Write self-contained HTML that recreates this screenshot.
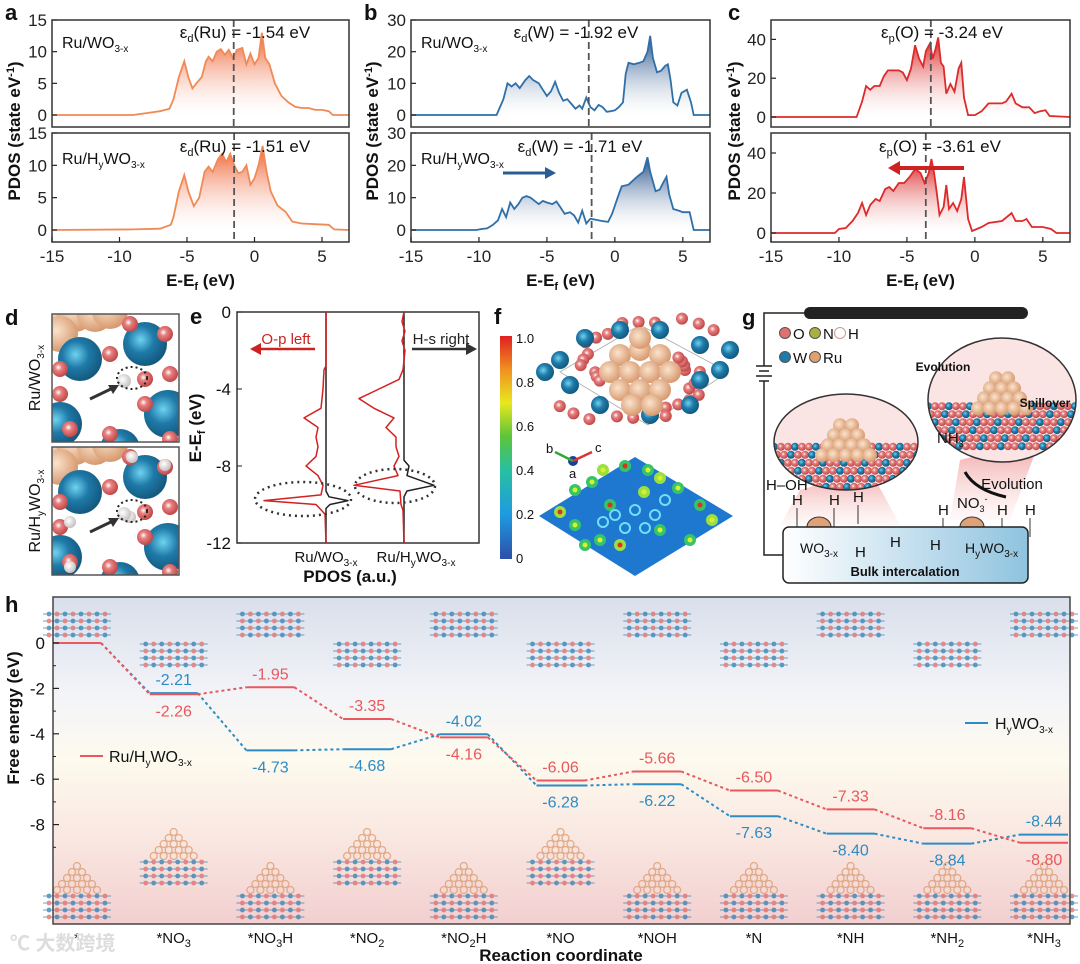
<!DOCTYPE html>
<html><head><meta charset="utf-8">
<style>
html,body{margin:0;padding:0;background:#fff;}
svg{display:block;font-family:"Liberation Sans","Noto Sans CJK SC",sans-serif;}
</style></head>
<body>
<svg id="fig" width="1080" height="964" viewBox="0 0 1080 964" xmlns="http://www.w3.org/2000/svg">
<defs>
<linearGradient id="gOr" x1="0" y1="0" x2="0" y2="1"><stop offset="0" stop-color="#ee5a2a"/><stop offset="1" stop-color="#fff" stop-opacity="0.2"/></linearGradient>
<linearGradient id="gBl" x1="0" y1="0" x2="0" y2="1"><stop offset="0" stop-color="#1d4a86"/><stop offset="1" stop-color="#fff" stop-opacity="0.2"/></linearGradient>
<linearGradient id="gRd" x1="0" y1="0" x2="0" y2="1"><stop offset="0" stop-color="#d91e1e"/><stop offset="1" stop-color="#fff" stop-opacity="0.2"/></linearGradient>
<linearGradient id="gBg" x1="0" y1="0" x2="0" y2="1"><stop offset="0" stop-color="#d9dfeb"/><stop offset="0.3" stop-color="#f3f4f8"/><stop offset="0.5" stop-color="#fdfaee"/><stop offset="0.75" stop-color="#f9e6e0"/><stop offset="1" stop-color="#f2cfd0"/></linearGradient>
<linearGradient id="gCb" x1="0" y1="1" x2="0" y2="0"><stop offset="0" stop-color="#2c4fa8"/><stop offset="0.2" stop-color="#1e9be0"/><stop offset="0.4" stop-color="#27c0a0"/><stop offset="0.55" stop-color="#5cc43a"/><stop offset="0.7" stop-color="#e8e81e"/><stop offset="0.85" stop-color="#f09020"/><stop offset="1" stop-color="#e02020"/></linearGradient>
<linearGradient id="gBox" x1="0" y1="0" x2="1" y2="0"><stop offset="0" stop-color="#fff"/><stop offset="1" stop-color="#8fc3df"/></linearGradient>
<radialGradient id="gW" cx="0.4" cy="0.4" r="0.6"><stop offset="0" stop-color="#6fd3f0"/><stop offset="0.5" stop-color="#1f7aa8"/><stop offset="1" stop-color="#145a80"/></radialGradient>
<radialGradient id="gO" cx="0.4" cy="0.4" r="0.6"><stop offset="0" stop-color="#fff"/><stop offset="0.35" stop-color="#e78080"/><stop offset="1" stop-color="#c04848"/></radialGradient>
<radialGradient id="gRu" cx="0.4" cy="0.4" r="0.6"><stop offset="0" stop-color="#fbe3cc"/><stop offset="1" stop-color="#d79a70"/></radialGradient>
<radialGradient id="gH" cx="0.4" cy="0.4" r="0.6"><stop offset="0" stop-color="#fff"/><stop offset="1" stop-color="#c8c0c0"/></radialGradient>
<linearGradient id="gCone" x1="0" y1="0" x2="0" y2="1"><stop offset="0" stop-color="#f0a0a0"/><stop offset="1" stop-color="#fde8e8" stop-opacity="0.3"/></linearGradient>
</defs>
<g id="root"></g>
</svg>
<script>
// ---------- Panel a/b/c data (energy, PDOS) ----------
const aTop=[[-15,0],[-9,0],[-8,0.3],[-7,0.6],[-6.3,1],[-6,2.5],[-5.6,6],[-5.2,8.5],[-4.9,6],[-4.6,4.2],[-4.3,5],[-3.9,6],[-3.6,8.5],[-3.4,9.2],[-3.1,8.5],[-2.8,10],[-2.5,10.4],[-2.2,9.5],[-1.9,10.3],[-1.6,9],[-1.3,10.3],[-0.9,10.6],[-0.6,8],[-0.3,9.7],[0,8],[0.3,9],[0.55,13],[0.8,9],[1.1,8],[1.5,5],[2,3],[2.5,2],[3,1.3],[3.5,1.1],[4,1.1],[4.5,0.8],[5,0.8],[5.5,0.6],[5.8,0],[7,0]];
const aBot=[[-15,0],[-9,0.1],[-7,0.2],[-6.2,0.8],[-6,2],[-5.6,6],[-5.2,8.5],[-4.9,6],[-4.5,3.7],[-4.1,5],[-3.7,9],[-3.4,9.8],[-3.1,9],[-2.7,11],[-2.4,11.8],[-2.1,10.5],[-1.8,11.8],[-1.5,10],[-1.2,8.8],[-0.9,9],[-0.6,10],[-0.3,7],[0,8],[0.3,10],[0.6,13],[0.9,9],[1.2,6],[1.7,3.8],[2.3,2.8],[2.8,1.3],[3.5,1],[4.5,0.9],[5.5,0.8],[5.9,0.1],[7,0]];
const bTop=[[-15,0],[-8.7,0],[-8.2,5],[-7.9,10],[-7.6,9],[-7.3,10],[-7,8.5],[-6.6,11],[-6.3,12.3],[-6,11],[-5.6,10],[-5.3,8],[-5,6],[-4.7,7.5],[-4.4,10.5],[-4.1,7],[-3.8,4.5],[-3.5,5],[-3.2,3.5],[-2.9,2],[-2.6,3],[-2.4,2],[-2.1,5.5],[-1.8,2.5],[-1.5,1.5],[-1.2,3.2],[-0.9,2.5],[-0.6,1],[-0.3,1.2],[0,1.5],[0.3,2.5],[0.6,4],[0.8,13],[1,16.5],[1.4,16],[1.8,16.5],[2.1,17],[2.4,20],[2.6,25],[2.8,18],[3.1,13.5],[3.4,14],[3.7,15.5],[3.9,16],[4.1,11],[4.3,4],[4.6,3],[4.9,7],[5.3,8],[5.6,4],[5.8,0],[7,0]];
const bBot=[[-15,0],[-10.2,0],[-9.8,0.3],[-9.4,0.5],[-9,1.5],[-8.6,3],[-8.3,6.5],[-8,4],[-7.7,8.5],[-7.4,6.5],[-7.1,8],[-6.8,10],[-6.5,10.5],[-6.2,10],[-5.9,9],[-5.6,8],[-5.3,9],[-5,8.5],[-4.6,8],[-4.3,8.8],[-4,7],[-3.7,5],[-3.3,5.5],[-3,4.5],[-2.7,2.3],[-2.4,6],[-2.1,2],[-1.8,3.5],[-1.4,3.2],[-1,2.8],[-0.5,2.5],[-0.2,5],[0.2,10],[0.5,13.5],[1,14],[1.5,16],[1.8,17],[2.1,18],[2.4,22.5],[2.6,18],[3,12],[3.3,12.5],[3.6,15],[3.8,16.5],[4,11],[4.3,6.5],[4.7,6],[5,5.5],[5.5,5.5],[5.8,0],[7,0]];
const cTop=[[-15,0],[-8.7,0],[-8.3,8],[-8,16],[-7.7,14],[-7.4,16],[-7,16],[-6.7,21],[-6.4,24],[-6,24],[-5.6,24],[-5.3,23],[-5,19],[-4.7,25],[-4.4,37],[-4.1,30],[-3.8,26],[-3.6,34],[-3.3,38],[-3.1,30],[-2.9,35],[-2.7,41],[-2.5,28],[-2.3,26],[-2.1,12],[-1.8,17],[-1.5,13],[-1.2,25],[-1,28],[-0.8,10],[-0.5,1],[0,1],[0.5,3],[1,7],[2,7],[2.3,8],[2.7,12],[3,7],[3.5,5],[4,5],[4.4,2],[4.8,3],[5.2,3.5],[5.5,0.5],[7,0]];
const cBot=[[-15,0],[-10.3,0],[-10,2],[-9.5,2.5],[-9,6],[-8.6,10],[-8.3,15],[-8,9],[-7.7,14],[-7.3,17],[-7,16],[-6.6,22],[-6.3,23],[-6,21],[-5.6,25],[-5.2,25],[-4.8,28],[-4.4,32],[-4,30],[-3.7,25],[-3.4,30],[-3.2,37],[-3,30],[-2.8,20],[-2.6,9],[-2.3,13],[-2.1,24],[-1.9,12],[-1.6,15],[-1.3,11],[-1,17],[-0.8,28],[-0.5,7],[-0.2,1],[0.5,3],[1,5],[2,6],[2.7,10],[3,6],[3.5,6],[3.8,7],[4.2,3],[5,3],[5.6,2],[6,0],[7,0]];
const centers=[-1.54,-1.51,-1.92,-1.71,-3.24,-3.61];
const xTicks=[-15,-10,-5,0,5];
// ---------- Panel e data (energy, deflection a.u.) ----------
const eOp1=[[0,0],[-2.8,0],[-3,-2],[-4,-3],[-5,-5],[-5.5,-22],[-6,-8],[-6.5,-10],[-7,-8],[-7.5,-10],[-8,-20],[-8.5,-8],[-9,-3],[-9.5,-5],[-9.8,-62],[-10,-10],[-10.5,-1],[-12,0]];
const eHs1=[[0,0],[-9.3,0],[-9.6,3],[-9.8,22],[-10,4],[-10.2,0],[-12,0]];
const eOp2=[[0,0],[-0.5,-2],[-1,1],[-1.5,-2],[-2,1],[-3,-1],[-3.5,-5],[-4,-25],[-4.5,-45],[-5,-30],[-5.5,-10],[-6,-18],[-6.5,-8],[-7,-8],[-7.5,-5],[-8,-10],[-8.5,-6],[-9,-50],[-9.3,-4],[-10,-3],[-10.3,-1],[-12,0]];
const eHs2=[[0,0],[-7.7,0],[-8,5],[-8.5,3],[-9,30],[-9.3,3],[-9.6,0],[-12,0]];
const eTicks=[0,-4,-8,-12];
// ---------- Panel h data ----------
const steps=["*","*NO3","*NO3H","*NO2","*NO2H","*NO","*NOH","*N","*NH","*NH2","*NH3"];
const redG=[0,-2.26,-1.95,-3.35,-4.16,-6.06,-5.66,-6.50,-7.33,-8.16,-8.80];
const blueG=[0,-2.21,-4.73,-4.68,-4.02,-6.28,-6.22,-7.63,-8.40,-8.84,-8.44];
const hTicks=[0,-2,-4,-6,-8];
const redPos=[0,1,-1,-1,1,-1,-1,-1,-1,-1,1];   // +1 below, -1 above
const bluePos=[0,-1,1,1,-1,1,1,1,1,1,-1];

const NS="http://www.w3.org/2000/svg";
const root=document.getElementById('root');
function mk(tag,attrs,parent){const e=document.createElementNS(NS,tag);for(const k in attrs)e.setAttribute(k,attrs[k]);(parent||root).appendChild(e);return e;}
function txt(x,y,s,opt,parent){const o=Object.assign({x:x,y:y,'font-size':16,fill:'#111'},opt||{});const t=mk('text',o,parent);t.innerHTML=s;return t;}

// ---------- PDOS panels ----------
function pdosPanel(p){
  const g=mk('g',{});
  
  
  const sx=e=>p.x0+(e+15)/22*(p.x1-p.x0);
  const subs=[{d:p.top,y0:p.zTop,y1:20,label:p.l1,ann:p.a1,c:p.c1,ay:36},{d:p.bot,y0:p.zBot,y1:133,label:p.l2,ann:p.a2,c:p.c2,ay:152}];
  subs.forEach((s,k)=>{
    const sy=v=>s.y0-v*(s.y0-s.y1)/p.vmax;
    let dp='';s.d.forEach((pt,i)=>{dp+=(i?'L':'M')+sx(pt[0]).toFixed(1)+','+sy(pt[1]).toFixed(1);});
    const area=mk('path',{d:dp+'L'+sx(7)+','+sy(0)+'L'+sx(-15)+','+sy(0)+'Z',fill:'url(#'+p.grad+')',stroke:'none'},g);
    
    
    const ln=mk('path',{d:dp,fill:'none',stroke:p.color,'stroke-width':1.8},g);
    
    
    const dx=sx(s.c);
    const dl=mk('line',{x1:dx,x2:dx,y1:k?133:20,y2:k?242:127,stroke:'#555','stroke-width':1.8,'stroke-dasharray':'7,4'},g);
    
    
    p.yt.forEach(v=>{const yy=sy(v);mk('line',{x1:p.x0,x2:p.x0+5,y1:yy,y2:yy,stroke:'#222','stroke-width':1.2},g);
      const t=txt(p.x0-5,yy+6,String(v),{'text-anchor':'end','font-size':17,fill:'#222'},g);
      
      });
    if(s.label){const t=txt(p.x0+10,s.ay+12,s.label,{'font-size':16},g);
      
      }
    const an=txt(s.ann[0],s.ay+(k?0:2),s.ann[1],{'font-size':17,'text-anchor':'middle'},g);
    
    
  });
  const fr=mk('rect',{x:p.x0,y:20,width:p.x1-p.x0,height:107,fill:'none',stroke:'#333','stroke-width':1.5},g);
  
  const fr2=mk('rect',{x:p.x0,y:133,width:p.x1-p.x0,height:109,fill:'none',stroke:'#333','stroke-width':1.5},g);
  
  xTicks.forEach(v=>{const xx=sx(v);mk('line',{x1:xx,x2:xx,y1:242,y2:237,stroke:'#222','stroke-width':1.2},g);
    const t=txt(xx,262,String(v),{'text-anchor':'middle','font-size':17,fill:'#222'},g);
    });
  const xt=txt((p.x0+p.x1)/2,286,'E-E<tspan font-size="11" dy="4">f</tspan><tspan dy="-4"> (eV)</tspan>',{'text-anchor':'middle','font-size':17,'font-weight':'bold'},g);
  
  const yt=txt(0,0,'PDOS (state eV<tspan font-size="11" dy="-6">-1</tspan><tspan dy="6">)</tspan>',{'text-anchor':'middle','font-size':17,'font-weight':'bold',transform:'translate('+p.ytx+',131) rotate(-90)'},g);
  
  const pl=txt(p.lx,20,p.letter,{'font-size':22,'font-weight':'bold'},g);
  
  return {g,sx};
}
const WO='WO<tspan font-size="10" dy="4">3-x</tspan>';
const HWO='H<tspan font-size="10" dy="4">y</tspan><tspan dy="-4">WO</tspan><tspan font-size="10" dy="4">3-x</tspan>';
pdosPanel({name:'panel-a',letter:'a',lx:5,x0:52,x1:349,zTop:115,zBot:230,vmax:15,yt:[0,5,10,15],top:aTop,bot:aBot,c1:centers[0],c2:centers[1],
  grad:'gOr',color:'#f08a55',l1:'Ru/'+WO,l2:'Ru/'+HWO,ytx:20,
  a1:[245,'ε<tspan font-size="11" dy="4">d</tspan><tspan dy="-4">(Ru) = -1.54 eV</tspan>'],a2:[245,'ε<tspan font-size="11" dy="4">d</tspan><tspan dy="-4">(Ru) = -1.51 eV</tspan>']});
const pb=pdosPanel({name:'panel-b',letter:'b',lx:364,x0:411,x1:710,zTop:115,zBot:230,vmax:30,yt:[0,10,20,30],top:bTop,bot:bBot,c1:centers[2],c2:centers[3],
  grad:'gBl',color:'#2f6fa8',l1:'Ru/'+WO,l2:'Ru/'+HWO,ytx:378,
  a1:[576,'ε<tspan font-size="11" dy="4">d</tspan><tspan dy="-4">(W) = -1.92 eV</tspan>'],a2:[580,'ε<tspan font-size="11" dy="4">d</tspan><tspan dy="-4">(W) = -1.71 eV</tspan>']});
const pc=pdosPanel({name:'panel-c',letter:'c',lx:728,x0:771,x1:1070,zTop:117,zBot:233,vmax:50,yt:[0,20,40],top:cTop,bot:cBot,c1:centers[4],c2:centers[5],
  grad:'gRd',color:'#dd2a2a',l1:null,l2:null,ytx:740,
  a1:[942,'ε<tspan font-size="11" dy="4">p</tspan><tspan dy="-4">(O) = -3.24 eV</tspan>'],a2:[940,'ε<tspan font-size="11" dy="4">p</tspan><tspan dy="-4">(O) = -3.61 eV</tspan>']});
(function(){
  const a1=mk('path',{d:'M503,173 L548,173',stroke:'#2a5d96','stroke-width':3},pb.g);
  
  mk('path',{d:'M556,173 L545,167 L545,179 Z',fill:'#2a5d96'},pb.g);
  const a2=mk('path',{d:'M964,168 L898,168',stroke:'#cc2222','stroke-width':4},pc.g);
  
  mk('path',{d:'M888,168 L900,161 L900,175 Z',fill:'#cc2222'},pc.g);
})();

// ---------- Panel d ----------
(function(){
  const g=mk('g',{});
  
  
  txt(5,325,'d',{'font-size':22,'font-weight':'bold'},g);
  [[314,'Ru/'+WO],[447,'Ru/'+HWO]].forEach((b,k)=>{
    const y=b[0];
    const cp=mk('clipPath',{id:'cd'+k},g);mk('rect',{x:52,y:y,width:127,height:128},cp);
    const gg=mk('g',{'clip-path':'url(#cd'+k+')'},g);
    mk('rect',{x:52,y:y,width:127,height:128,fill:'#fff'},gg);
    [[55,y],[75,y],[95,y],[60,y+20],[110,y-3]].forEach(c=>mk('circle',{cx:c[0],cy:c[1],r:18,fill:'url(#gRu)'},gg));
    [[80,y+45,22],[145,y+30,22],[168,y+100,24],[60,y+110,22],[120,y+135,20]].forEach(c=>mk('circle',{cx:c[0],cy:c[1],r:c[2],fill:'url(#gW)'},gg));
    [[130,y+10],[165,y+20],[110,y+40],[60,y+55],[145,y+65],[170,y+60],[60,y+80],[145,y+90],[70,y+115],[110,y+120],[170,y+125]].forEach(c=>mk('circle',{cx:c[0],cy:c[1],r:8,fill:'url(#gO)'},gg));
    if(k){[[132,y+10],[165,y+18],[70,y+75],[130,y+70],[70,y+120],[45,y+125]].forEach(c=>mk('circle',{cx:c[0],cy:c[1],r:6,fill:'url(#gH)'},gg));}
    mk('circle',{cx:124,cy:y+67,r:7,fill:'url(#gH)'},gg);
    mk('ellipse',{cx:132,cy:y+64,rx:15,ry:11,fill:'none',stroke:'#222','stroke-width':2,'stroke-dasharray':'2,3'},gg);
    mk('path',{d:'M90,'+(y+85)+' L115,'+(y+73),stroke:'#333','stroke-width':3},gg);
    mk('path',{d:'M119,'+(y+71)+' L108,'+(y+71)+' L113,'+(y+80)+' Z',fill:'#333'},gg);
    mk('rect',{x:52,y:y,width:127,height:128,fill:'none',stroke:'#555','stroke-width':1.5},g);
    const l=txt(0,0,b[1],{'font-size':16,'text-anchor':'middle',transform:'translate(40,'+(y+64)+') rotate(-90)'},g);
    
  });
})();

// ---------- Panel e ----------
(function(){
  const g=mk('g',{});
  
  
  const X0=237,X1=479,Y0=312,Y1=543;
  const sy=e=>Y0-e*(Y1-Y0)/12;
  txt(190,324,'e',{'font-size':22,'font-weight':'bold'},g);
  mk('rect',{x:X0,y:Y0,width:X1-X0,height:Y1-Y0,fill:'none',stroke:'#333','stroke-width':1.5},g);
  function curve(d,bx,col,nm){let s='';d.forEach((p,i)=>{s+=(i?'L':'M')+(bx+p[1]).toFixed(1)+','+sy(p[0]).toFixed(1);});
    const c=mk('path',{d:s,fill:'none',stroke:col,'stroke-width':1.5,'stroke-linejoin':'round'},g);
    }
  curve(eHs1,326,'#222','hs-curve-1');curve(eOp1,326,'#d42020','op-curve-1');
  curve(eHs2,404,'#222','hs-curve-2');curve(eOp2,404,'#d42020','op-curve-2');
  eTicks.forEach(v=>{const yy=sy(v);mk('line',{x1:X0,x2:X0+5,y1:yy,y2:yy,stroke:'#222'},g);
    const t=txt(X0-6,yy+6,String(v),{'text-anchor':'end','font-size':17},g);
    });
  mk('ellipse',{cx:303,cy:499,rx:48,ry:17,fill:'none',stroke:'#333','stroke-width':2.5,'stroke-dasharray':'2,4'},g);
  mk('ellipse',{cx:395,cy:486,rx:40,ry:17,fill:'none',stroke:'#333','stroke-width':2.5,'stroke-dasharray':'2,4'},g);
  txt(286,344,'O-p left',{'font-size':15,fill:'#cc2222','text-anchor':'middle'},g);
  mk('path',{d:'M315,349 L258,349',stroke:'#cc2222','stroke-width':2.5},g);mk('path',{d:'M250,349 L261,343 L261,355Z',fill:'#cc2222'},g);
  txt(441,344,'H-s right',{'font-size':15,fill:'#222','text-anchor':'middle'},g);
  mk('path',{d:'M412,349 L468,349',stroke:'#333','stroke-width':2.5},g);mk('path',{d:'M477,349 L466,343 L466,355Z',fill:'#333'},g);
  txt(0,0,'E-E<tspan font-size="11" dy="4">f</tspan><tspan dy="-4"> (eV)</tspan>',{'font-size':17,'font-weight':'bold','text-anchor':'middle',transform:'translate(201,428) rotate(-90)'},g);
  txt(326,562,'Ru/'+WO,{'font-size':15,'text-anchor':'middle'},g);
  txt(416,562,'Ru/'+HWO,{'font-size':15,'text-anchor':'middle'},g);
  const xt=txt(350,582,'PDOS (a.u.)',{'font-size':17,'font-weight':'bold','text-anchor':'middle'},g);
  
})();

// ---------- Panel f ----------
(function(){
  const g=mk('g',{});
  
  
  txt(494,324,'f',{'font-size':22,'font-weight':'bold'},g);
  const cb=mk('rect',{x:500,y:336,width:12,height:223,fill:'url(#gCb)'},g);
  
  ['1.0','0.8','0.6','0.4','0.2','0'].forEach((s,i)=>{const yy=338+i*44;txt(516,yy+5,s,{'font-size':13},g);});
  mk('path',{d:'M560,372 L640,325 L728,372 L648,425 Z',fill:'none',stroke:'#aaa','stroke-width':0.8},g);
  const atoms=[[560,360],[585,338],[620,330],[660,330],[700,345],[720,370],[690,405],[650,415],[600,405],[570,385],[700,380],[545,372],[730,350]];
  for(let i=0;i<34;i++){const ang=i*0.61, rr=30+(i%5)*10;mk('circle',{cx:640+Math.cos(ang)*rr*1.5,cy:370+Math.sin(ang)*rr*0.8,r:6,fill:'url(#gO)'},g);}
  atoms.forEach(a=>mk('circle',{cx:a[0],cy:a[1],r:9,fill:'url(#gW)'},g));
  [[620,355],[640,350],[660,355],[610,372],[630,372],[650,372],[670,372],[620,390],[640,390],[660,390],[632,405],[652,405],[640,338]].forEach(a=>mk('circle',{cx:a[0],cy:a[1],r:11,fill:'url(#gRu)'},g));
  mk('circle',{cx:573,cy:461,r:5,fill:'#1d3f9c'},g);
  mk('path',{d:'M573,461 L555,452',stroke:'#3a3',"stroke-width":2.5},g);mk('path',{d:'M573,461 L592,452',stroke:'#d33',"stroke-width":2.5},g);
  txt(546,453,'b',{'font-size':13},g);txt(595,452,'c',{'font-size':13},g);txt(569,478,'a',{'font-size':13},g);
  const hm=mk('path',{d:'M539,516 L635,457 L733,516 L635,576 Z',fill:'#1e78d0'},g);
  
  [[560,512],[575,490],[592,482],[603,470],[625,466],[648,470],[660,478],[678,488],[700,505],[712,520],[660,530],[690,540],[620,545],[600,540],[575,525],[644,492],[610,505],[585,545]].forEach((p,i)=>{
    mk('circle',{cx:p[0],cy:p[1],r:6,fill:i%3==0?'#9be040':'#35c46a'},g);
    mk('circle',{cx:p[0],cy:p[1],r:2.5,fill:i%4==0?'#e03020':'#d8f030'},g);});
  [[615,515],[635,510],[655,515],[625,528],[645,528],[603,522],[665,500]].forEach(p=>mk('circle',{cx:p[0],cy:p[1],r:5,fill:'none',stroke:'#6ee0f8','stroke-width':2},g));
})();

// ---------- Panel g ----------
(function(){
  const g=mk('g',{});
  
  
  txt(742,325,'g',{'font-size':22,'font-weight':'bold'},g);
  mk('path',{d:'M810,313 L1022,313',stroke:'#222','stroke-width':12,'stroke-linecap':'round'},g);
  mk('path',{d:'M810,313 L764,313 L764,366 M764,381 L764,555 L783,555',fill:'none',stroke:'#222','stroke-width':1.5},g);
  mk('path',{d:'M756,366 L772,366 M759,371 L769,371 M756,376 L772,376 M759,381 L769,381',stroke:'#222','stroke-width':1.5},g);
  [[785,333,'#e07070','O'],[815,333,'#a8b040','N'],[840,333,'#fff','H'],[785,357,'#1f7aa8','W'],[815,357,'#e0a070','Ru']].forEach(a=>{
    mk('circle',{cx:a[0],cy:a[1],r:5.5,fill:a[2],stroke:a[3]=='H'?'#c99':'#555','stroke-width':1},g);txt(a[0]+8,a[1]+6,a[3],{'font-size':15},g);});
  mk('path',{d:'M800,490 L780,525 L900,525 L870,470 Z',fill:'url(#gCone)'},g);
  mk('path',{d:'M960,460 L950,520 L1010,520 L1040,440 Z',fill:'url(#gCone)'},g);
  function bubble(cx,cy,rx,ry,id){const cp=mk('clipPath',{id:id},g);mk('ellipse',{cx:cx,cy:cy,rx:rx,ry:ry},cp);
    const gg=mk('g',{'clip-path':'url(#'+id+')'},g);
    mk('ellipse',{cx:cx,cy:cy,rx:rx,ry:ry,fill:'#fbe4e4'},gg);
    for(let r=0;r<6;r++)for(let c=0;c<22;c++){const x=cx-rx+c*7+(r%2)*3,y=cy+ry*0.1+r*8;mk('circle',{cx:x,cy:y,r:4,fill:(r+c)%3==0?'url(#gW)':'url(#gO)'},gg);}
    for(let r=0;r<4;r++)for(let c=0;c<=r+1;c++){mk('circle',{cx:cx-(r+1)*6+c*12,cy:cy-ry*0.35+r*10,r:7,fill:'url(#gRu)'},gg);}
    mk('ellipse',{cx:cx,cy:cy,rx:rx,ry:ry,fill:'none',stroke:'#333','stroke-width':1.5},g);}
  bubble(846,442,72,48,'bg1');bubble(1002,400,74,62,'bg2');
  txt(943,371,'Evolution',{'font-size':12,'font-weight':'bold','text-anchor':'middle'},g);
  txt(1045,407,'Spillover',{'font-size':12,'font-weight':'bold','text-anchor':'middle'},g);
  txt(937,443,'NH<tspan font-size="9" dy="4">3</tspan>',{'font-size':15},g);
  txt(1012,489,'Evolution',{'font-size':15,'text-anchor':'middle'},g);
  mk('path',{d:'M1006,497 Q975,490 965,472',fill:'none',stroke:'#111','stroke-width':3},g);
  txt(766,490,'H–OH',{'font-size':15},g);
  [[797,505],[834,505],[858,502],[943,515],[1002,515],[1030,515]].forEach(p=>{txt(p[0]-5,p[1],'H',{'font-size':15},g);mk('line',{x1:p[0],x2:p[0],y1:p[1]+3,y2:p[1]+22,stroke:'#333'},g);});
  txt(957,508,'NO<tspan font-size="9" dy="4">3</tspan><tspan font-size="9" dy="-10">-</tspan>',{'font-size':15},g);
  mk('path',{d:'M807,527 A12,10 0 0 1 831,527 Z',fill:'#e0a078',stroke:'#333'},g);
  mk('path',{d:'M960,527 A12,10 0 0 1 984,527 Z',fill:'#e0a078',stroke:'#333'},g);
  const bx=mk('rect',{x:783,y:527,width:245,height:56,rx:6,fill:'url(#gBox)',stroke:'#222','stroke-width':1.5},g);
  
  txt(800,553,WO,{'font-size':14},g);txt(855,557,'H',{'font-size':15},g);txt(890,547,'H',{'font-size':15},g);
  txt(930,550,'H',{'font-size':15},g);txt(965,553,HWO,{'font-size':14},g);
  txt(905,576,'Bulk intercalation',{'font-size':13,'font-weight':'bold','text-anchor':'middle'},g);
})();

// ---------- Panel h ----------
(function(){
  const g=mk('g',{});
  
  
  const X0=53,X1=1070,Y0=597,Y1=924;
  const sy=v=>643-v*22.7;
  const cx=i=>77+i*96.7;
  const hw=24;
  const bg=mk('rect',{x:X0,y:Y0,width:X1-X0,height:Y1-Y0,fill:'url(#gBg)'},g);
  
  txt(5,612,'h',{'font-size':22,'font-weight':'bold'},g);
  function slab(x,y,ru){const s=mk('g',{opacity:0.75},g);
    if(ru){for(let r=0;r<5;r++)for(let c=0;c<=r;c++)mk('circle',{cx:x-r*5+c*10,cy:y-36+r*6,r:3.5,fill:'none',stroke:'#d99a6e','stroke-width':1.3},s);}
    for(let r=0;r<4;r++){mk('line',{x1:x-34,x2:x+34,y1:y+r*7-6,y2:y+r*7-6,stroke:'#3a86b4','stroke-width':1},s);
      for(let c=0;c<8;c++)mk('circle',{cx:x-28+c*8,cy:y+r*7-6,r:2.4,fill:(c+r)%2?'#e06868':'#2c7cb0'},s);}
    return s;}
  const topHigh=[1,0,1,0,1,0,1,0,1,0,1];
  const botHigh=[0,1,0,1,0,1,0,0,0,0,0];
  steps.forEach((s,i)=>{slab(cx(i),topHigh[i]?620:650,false); slab(cx(i),botHigh[i]?868:902,true);});
  function series(vals,col,nm,pos){
    for(let i=0;i<vals.length;i++){
      const l=mk('line',{x1:i?cx(i)-hw:X0,x2:cx(i)+hw,y1:sy(vals[i]),y2:sy(vals[i]),stroke:col,'stroke-width':2},g);
      
      
      if(i<vals.length-1){const c=mk('line',{x1:cx(i)+hw,x2:cx(i+1)-hw,y1:sy(vals[i]),y2:sy(vals[i+1]),stroke:col,'stroke-width':2,'stroke-dasharray':'3,3'},g);
        
        }
      if(i>0){const yy=sy(vals[i])+(pos[i]>0?22:-8);
        const t=txt(cx(i),yy,vals[i].toFixed(2),{'font-size':16,fill:col,'text-anchor':'middle'},g);
        
        }
    }}
  series(blueG,'#2d8cc4','hywo',bluePos);
  series(redG,'#e8585c','ru-hywo',redPos);
  mk('rect',{x:X0,y:Y0,width:X1-X0,height:Y1-Y0,fill:'none',stroke:'#444','stroke-width':1.5},g);
  hTicks.forEach(v=>{const yy=sy(v);mk('line',{x1:X0,x2:X0+6,y1:yy,y2:yy,stroke:'#222','stroke-width':1.2},g);
    const t=txt(X0-8,yy+6,String(v),{'text-anchor':'end','font-size':17},g);
    });
  [-1,-3,-5,-7,-9].forEach(v=>mk('line',{x1:X0,x2:X0+3,y1:sy(v),y2:sy(v),stroke:'#222'},g));
  steps.forEach((s,i)=>{const lab=s.replace(/(\d)/g,'<tspan font-size="11" dy="4">$1</tspan><tspan dy="-4">\u200b</tspan>');
    const t=txt(cx(i),943,lab,{'font-size':15,'text-anchor':'middle'},g);
    });
  const xt=txt(561,961,'Reaction coordinate',{'font-size':17,'font-weight':'bold','text-anchor':'middle'},g);
  
  const yt=txt(0,0,'Free energy (eV)',{'font-size':17,'font-weight':'bold','text-anchor':'middle',transform:'translate(19,718) rotate(-90)'},g);
  
  const lg1=mk('g',{},g);
  
  
  mk('line',{x1:80,x2:103,y1:756,y2:756,stroke:'#e8585c','stroke-width':2},lg1);
  txt(109,762,'Ru/'+HWO,{'font-size':16},lg1);
  const lg2=mk('g',{},g);
  
  
  mk('line',{x1:965,x2:988,y1:723,y2:723,stroke:'#2d8cc4','stroke-width':2},lg2);
  txt(995,729,HWO,{'font-size':16},lg2);
  const wm=txt(10,950,'℃ 大数跨境',{'font-size':20,fill:'#ddd','font-weight':'bold'},g);
  
})();
</script>
</body></html>
